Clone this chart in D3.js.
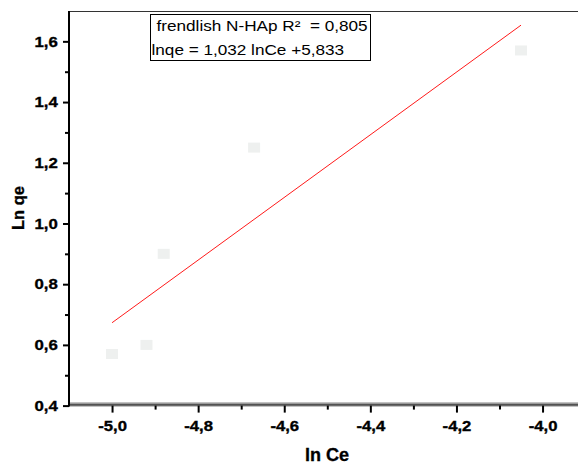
<!DOCTYPE html>
<html>
<head>
<meta charset="utf-8">
<script src="https://cdn.jsdelivr.net/npm/d3@7/dist/d3.min.js"></script>
<style>
  html, body { margin: 0; padding: 0; background: #fff; }
  svg { display: block; font-family: "Liberation Sans", Arial, sans-serif; }
  .heavy { stroke: #000; stroke-width: 0.35px; }
</style>
</head>
<body>
<svg id="chart" width="578" height="466"></svg>
<script>
// ln Ce / ln qe measurements
const lnCe = [-5.00, -4.92, -4.88, -4.67, -4.05];
const lnQe = [0.57, 0.60, 0.90, 1.25, 1.57];

// Freundlich linear fit
const fitSlope = 1.032;
const fitIntercept = 5.833;
const fitR2 = 0.805;

// axis ticks
const xMajorTicks = [-5.0, -4.8, -4.6, -4.4, -4.2, -4.0];
const xMinorTicks = [-4.9, -4.7, -4.5, -4.3, -4.1, -3.9];
const yMajorTicks = [0.4, 0.6, 0.8, 1.0, 1.2, 1.4, 1.6];
const yMinorTicks = [0.5, 0.7, 0.9, 1.1, 1.3, 1.5];

const fmt = v => v.toFixed(1).replace('.', ',');
const fmt3 = v => v.toFixed(3).replace('.', ',');

const svg = d3.select('#chart');

const x = d3.scaleLinear().domain([-5.1, -3.9]).range([69, 585.6]);
const y = d3.scaleLinear().domain([0.4, 1.7]).range([405.6, 11]);

const plotLeft = x.range()[0], plotRight = x.range()[1];
const plotTop = y.range()[1], plotBottom = y.range()[0];

// frame: top border
svg.append('line')
  .attr('x1', plotLeft).attr('x2', plotRight)
  .attr('y1', plotTop + 0.5).attr('y2', plotTop + 0.5)
  .attr('stroke', '#333').attr('stroke-width', 1);

// bottom axis band
svg.append('rect')
  .attr('x', plotLeft).attr('y', plotBottom - 3.2)
  .attr('width', plotRight - plotLeft).attr('height', 4.2)
  .attr('fill', '#9a9a9a');
svg.append('line')
  .attr('x1', plotLeft).attr('x2', plotRight)
  .attr('y1', plotBottom - 0.8).attr('y2', plotBottom - 0.8)
  .attr('stroke', '#3a3a3a').attr('stroke-width', 1.2);

// x axis ticks
const xAxisMajor = d3.axisBottom(x).tickValues(xMajorTicks).tickSize(7).tickFormat(fmt);
const xAxisMinor = d3.axisBottom(x).tickValues(xMinorTicks).tickSize(4).tickFormat('');

const gxMinor = svg.append('g').attr('transform', `translate(0,${plotBottom})`).call(xAxisMinor);
const gxMajor = svg.append('g').attr('transform', `translate(0,${plotBottom})`).call(xAxisMajor);
[gxMinor, gxMajor].forEach(g => {
  g.select('.domain').remove();
  g.selectAll('line').attr('stroke', '#000').attr('stroke-width', 2);
});
gxMajor.selectAll('text')
  .attr('class', 'heavy')
  .attr('y', 25).attr('dy', 0)
  .attr('fill', '#000')
  .attr('font-size', 14.5).attr('font-weight', 'bold')
  .attr('font-family', '"Liberation Sans", Arial, sans-serif')
  .attr('transform', 'scale(1.15,1)');

// y axis ticks
const yAxisMajor = d3.axisLeft(y).tickValues(yMajorTicks).tickSize(6).tickPadding(4).tickFormat(fmt);
const yAxisMinor = d3.axisLeft(y).tickValues(yMinorTicks).tickSize(4).tickFormat('');

const gyMinor = svg.append('g').attr('transform', `translate(${plotLeft},0)`).call(yAxisMinor);
const gyMajor = svg.append('g').attr('transform', `translate(${plotLeft},0)`).call(yAxisMajor);
[gyMinor, gyMajor].forEach(g => {
  g.select('.domain').remove();
  g.selectAll('line').attr('stroke', '#000').attr('stroke-width', 2);
});
gyMajor.selectAll('text')
  .attr('class', 'heavy')
  .attr('fill', '#000')
  .attr('font-size', 15).attr('font-weight', 'bold')
  .attr('font-family', '"Liberation Sans", Arial, sans-serif')
  .attr('transform', 'scale(1.12,1)');

// y axis line
svg.append('line')
  .attr('x1', plotLeft).attr('x2', plotLeft)
  .attr('y1', plotTop).attr('y2', plotBottom + 1)
  .attr('stroke', '#000').attr('stroke-width', 2);

// data markers
const pts = lnCe.map((v, i) => ({ x: v, y: lnQe[i] }));
svg.append('g').selectAll('rect')
  .data(pts)
  .join('rect')
  .attr('x', d => x(d.x) - 6)
  .attr('y', d => y(d.y) - 5)
  .attr('width', 12).attr('height', 10)
  .attr('fill', '#eef0ef');

// fitted line over the measured range
const xMin = d3.min(lnCe), xMax = d3.max(lnCe);
const fitLine = d3.line().x(d => x(d)).y(d => y(fitSlope * d + fitIntercept));
svg.append('path')
  .datum([xMin, xMax])
  .attr('d', fitLine)
  .attr('fill', 'none')
  .attr('stroke', '#ff1a1a')
  .attr('stroke-width', 1);

// legend box with fit equation
const legend = svg.append('g');
legend.append('rect')
  .attr('x', 150.5).attr('y', 14.5)
  .attr('width', 220).attr('height', 46)
  .attr('fill', '#fff').attr('stroke', '#000').attr('stroke-width', 1);
legend.append('text')
  .attr('transform', 'translate(156.5,31) scale(1.2,1)')
  .attr('font-size', 14.3).attr('fill', '#000')
  .style('white-space', 'pre')
  .text(`frendlish N-HAp R\u00B2  = ${fmt3(fitR2)}`);
legend.append('text')
  .attr('transform', 'translate(151.5,54.5) scale(1.2,1)')
  .attr('font-size', 14.3).attr('fill', '#000')
  .style('white-space', 'pre')
  .text(`lnqe = ${fmt3(fitSlope)} lnCe +${fmt3(fitIntercept)}`);

// axis titles
svg.append('text')
  .attr('class', 'heavy')
  .attr('transform', 'translate(327,461) scale(0.95,1)')
  .attr('text-anchor', 'middle')
  .attr('font-size', 19).attr('font-weight', 'bold').attr('fill', '#000')
  .text('ln Ce');
svg.append('text')
  .attr('class', 'heavy')
  .attr('transform', 'translate(23.5,208) rotate(-90)')
  .attr('text-anchor', 'middle')
  .attr('font-size', 16.5).attr('font-weight', 'bold').attr('fill', '#000')
  .text('Ln qe');
</script>
</body>
</html>
